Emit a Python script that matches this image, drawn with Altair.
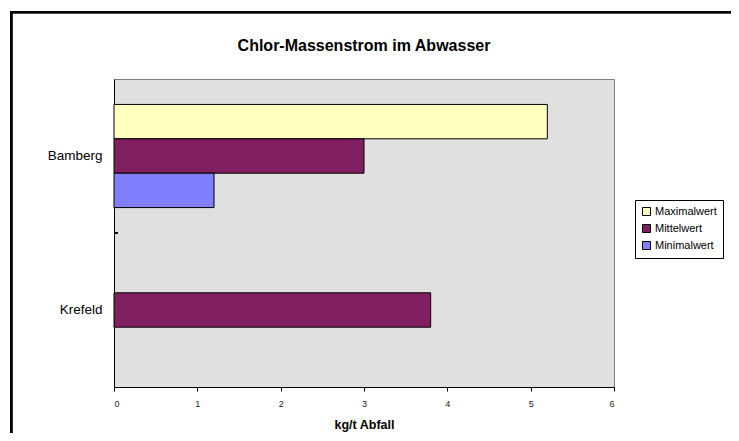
import altair as alt
import pandas as pd

cities = ["Bamberg", "Bamberg", "Bamberg", "Krefeld"]
series = ["Maximalwert", "Mittelwert", "Minimalwert", "Mittelwert"]
values = [5.2, 3.0, 1.2, 3.8]

series_order = ["Maximalwert", "Mittelwert", "Minimalwert"]
series_colors = ["#FFFFC0", "#802060", "#8080FF"]
city_order = ["Bamberg", "Krefeld"]
x_ticks = [0, 1, 2, 3, 4, 5, 6]
title_text = "Chlor-Massenstrom im Abwasser"

df = pd.DataFrame({"Stadt": cities, "Reihe": series, "Wert": values})

W, H = 500, 308
FONT = "Liberation Sans"

bars = alt.Chart(df).mark_bar(stroke="black", strokeWidth=1).encode(
    x=alt.X("Wert:Q", scale=alt.Scale(domain=[0, 6], nice=False),
            axis=alt.Axis(values=x_ticks, format="d", title="kg/t Abfall",
                          tickSize=4, tickColor="black", domainColor="black",
                          labelFontSize=9, labelColor="#222222", labelPadding=8,
                          titleFontSize=12.5, titleFontWeight="bold", titlePadding=10,
                          labelFont=FONT, titleFont=FONT, grid=False)),
    y=alt.Y("Stadt:N", sort=city_order,
            scale=alt.Scale(paddingInner=0, paddingOuter=0),
            axis=alt.Axis(title=None, ticks=False, labelPadding=12, labelFontSize=13.5,
                          labelColor="black", labelFont=FONT, domainColor="black")),
    yOffset=alt.YOffset("Reihe:N", sort=series_order,
                        scale=alt.Scale(paddingInner=0, paddingOuter=0.74)),
    color=alt.Color("Reihe:N", sort=series_order,
                    scale=alt.Scale(domain=series_order, range=series_colors),
                    legend=alt.Legend(title=None, orient="none", legendX=521, legendY=121,
                                      strokeColor="black", fillColor="white", padding=6,
                                      symbolType="square", symbolSize=64,
                                      symbolStrokeColor="black", symbolStrokeWidth=1,
                                      labelFontSize=11, labelFont=FONT, labelColor="black",
                                      rowPadding=4, labelOffset=3)),
)

ytick = alt.Chart(df).mark_rule(color="black", strokeWidth=1).encode(
    x=alt.value(0), x2=alt.value(4), y=alt.value(H / 2))

frame_left = alt.Chart(df).mark_rule(color="black", strokeWidth=2.3).encode(
    x=alt.value(-102.8), y=alt.value(-66.8), y2=alt.value(400))
frame_top = alt.Chart(df).mark_rule(color="black", strokeWidth=2.3).encode(
    x=alt.value(-103.9), x2=alt.value(640), y=alt.value(-66.8))

title = alt.Chart(pd.DataFrame({"t": [title_text]})).mark_text(
    font=FONT, fontSize=16, fontWeight="bold", color="black",
    align="center", baseline="middle").encode(
    text="t:N", x=alt.value(W / 2), y=alt.value(-33))

chart = alt.layer(bars, ytick, frame_left, frame_top, title).properties(
    width=W, height=H,
    padding={"left": 106, "top": 71, "right": 117, "bottom": 46},
    autosize=alt.AutoSizeParams(type="none"),
).configure_view(fill="#E0E0E0", stroke="#808080", strokeWidth=1)

chart.save("out.html", embed_options={"renderer": "svg", "actions": False})
